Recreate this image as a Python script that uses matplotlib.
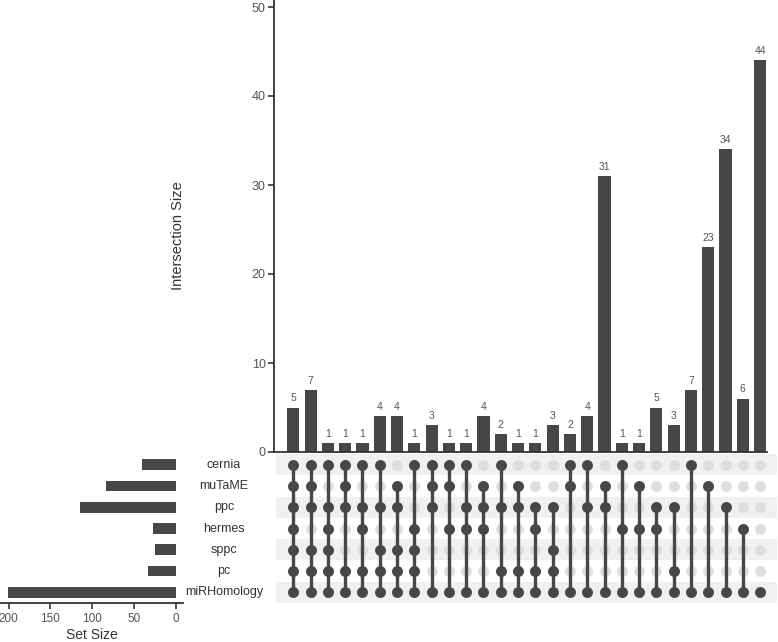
import matplotlib
matplotlib.use("Agg")
import matplotlib.pyplot as plt
import numpy as np

plt.rcParams['font.family'] = ['Liberation Sans', 'DejaVu Sans']

sets = ["cernia", "muTaME", "ppc", "hermes", "sppc", "pc", "miRHomology"]
set_sizes = [41, 83, 115, 28, 25, 34, 201]

intersection_sizes = [5, 7, 1, 1, 1, 4, 4, 1, 3, 1, 1, 4, 2, 1, 1, 3, 2, 4, 31,
                      1, 1, 5, 3, 7, 23, 34, 6, 44]
intersection_members = [
    ["cernia", "muTaME", "ppc", "hermes", "sppc", "pc", "miRHomology"],
    ["cernia", "muTaME", "ppc", "sppc", "pc", "miRHomology"],
    ["cernia", "ppc", "hermes", "sppc", "pc", "miRHomology"],
    ["cernia", "muTaME", "ppc", "pc", "miRHomology"],
    ["cernia", "ppc", "hermes", "pc", "miRHomology"],
    ["cernia", "ppc", "sppc", "pc", "miRHomology"],
    ["muTaME", "ppc", "sppc", "pc", "miRHomology"],
    ["cernia", "hermes", "sppc", "pc", "miRHomology"],
    ["cernia", "muTaME", "ppc", "miRHomology"],
    ["cernia", "muTaME", "hermes", "miRHomology"],
    ["cernia", "ppc", "hermes", "miRHomology"],
    ["muTaME", "ppc", "hermes", "miRHomology"],
    ["cernia", "ppc", "pc", "miRHomology"],
    ["muTaME", "ppc", "pc", "miRHomology"],
    ["ppc", "hermes", "pc", "miRHomology"],
    ["ppc", "sppc", "pc", "miRHomology"],
    ["cernia", "muTaME", "miRHomology"],
    ["cernia", "ppc", "miRHomology"],
    ["muTaME", "ppc", "miRHomology"],
    ["cernia", "hermes", "miRHomology"],
    ["muTaME", "hermes", "miRHomology"],
    ["ppc", "hermes", "miRHomology"],
    ["ppc", "pc", "miRHomology"],
    ["cernia", "miRHomology"],
    ["muTaME", "miRHomology"],
    ["ppc", "miRHomology"],
    ["hermes", "miRHomology"],
    ["miRHomology"],
]
y_ticks = [0, 10, 20, 30, 40, 50]
set_ticks = [200, 150, 100, 50, 0]

DARK = "#474747"
LIGHT = "#dedede"
STRIPE = "#f0f0f0"
TXT = "#555555"

W, H = 778, 642
fig = plt.figure(figsize=(W / 100, H / 100), dpi=100)


def ax_px(l, t, r, b):
    return fig.add_axes([l / W, 1 - b / H, (r - l) / W, (b - t) / H])


col0, dx = 293.3, 17.29
ncol = len(intersection_sizes)
nrow = len(sets)
xs = np.arange(ncol)

# ---- intersection bars ----
axb = ax_px(274, 0, 767, 452)
axb.bar(xs, intersection_sizes, width=0.7, color=DARK, zorder=2)
for x, v in zip(xs, intersection_sizes):
    axb.annotate(str(v), (x, v), xytext=(0, 3), textcoords="offset points",
                 ha="center", va="bottom", fontsize=7.5, color=TXT)
axb.set_xlim((274 - col0) / dx, (767 - col0) / dx)
axb.set_ylim(0, 452 / 8.9)
axb.set_yticks(y_ticks)
axb.tick_params(axis="y", labelsize=9, labelcolor=TXT, color="#333333",
                length=4, width=1.2, pad=2)
axb.set_xticks([])
for s in ["top", "right"]:
    axb.spines[s].set_visible(False)
for s in ["left", "bottom"]:
    axb.spines[s].set_color("#333333")
    axb.spines[s].set_linewidth(1.3)
axb.patch.set_alpha(0)
fig.text(178 / W, 1 - 236 / H, "Intersection Size", rotation=90,
         ha="center", va="center", fontsize=10.5, color="#333333")

# ---- matrix ----
axm = ax_px(276, 454, 777, 603)
axm.set_xlim((276 - col0) / dx, (777 - col0) / dx)
axm.set_ylim(nrow - 0.5, -0.5)
for r in range(0, nrow, 2):
    axm.axhspan(r - 0.5, r + 0.5, color=STRIPE, zorder=0, lw=0)
gx, gy = np.meshgrid(xs, np.arange(nrow))
axm.scatter(gx.ravel(), gy.ravel(), s=62, color=LIGHT, zorder=1, lw=0)
for x, mem in zip(xs, intersection_members):
    rows = [sets.index(m) for m in mem]
    if len(rows) > 1:
        axm.plot([x, x], [min(rows), max(rows)], color=DARK, lw=2.4, zorder=2,
                 solid_capstyle="butt")
    axm.scatter([x] * len(rows), rows, s=62, color=DARK, zorder=3, lw=0)
axm.axis("off")

# set names
for i, name in enumerate(sets):
    yp = 454 + (i + 0.5) * (149 / nrow)
    fig.text(224 / W, 1 - yp / H, name, ha="center", va="center",
             fontsize=9, color="#333333")

# ---- set size bars ----
axs = ax_px(0, 454, 183, 603)
axs.barh(np.arange(nrow), set_sizes, height=0.5, color=DARK)
axs.set_ylim(nrow - 0.5, -0.5)
axs.set_xlim(176 / 0.8375, -7 / 0.8375)
axs.set_xticks(set_ticks)
axs.set_yticks([])
axs.tick_params(axis="x", labelsize=8.5, labelcolor=TXT, color="#333333",
                length=4, width=1.2)
for s in ["top", "right", "left"]:
    axs.spines[s].set_visible(False)
axs.spines["bottom"].set_color("#333333")
axs.spines["bottom"].set_linewidth(1.3)
axs.set_xlabel("Set Size", fontsize=10, color="#333333", labelpad=2)
axs.patch.set_alpha(0)

fig.savefig("out.png", dpi=100)
